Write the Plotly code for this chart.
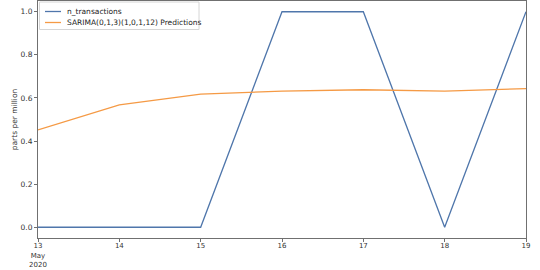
import plotly.graph_objects as go

dates = ["2020-05-13", "2020-05-14", "2020-05-15", "2020-05-16", "2020-05-17", "2020-05-18", "2020-05-19"]
n_transactions = [0, 0, 0, 1, 1, 0, 1]
predictions = [0.452, 0.568, 0.618, 0.632, 0.638, 0.632, 0.643]
tick_text = ["13<br>May<br>2020", "14", "15", "16", "17", "18", "19"]
y_ticks = [0.0, 0.2, 0.4, 0.6, 0.8, 1.0]
series_names = ["n_transactions", "SARIMA(0,1,3)(1,0,1,12) Predictions"]
colors = ["#4f76ab", "#f59a45"]

FONT = "DejaVu Sans"
FS = 7.5

fig = go.Figure()
fig.add_trace(go.Scatter(x=dates, y=n_transactions, mode="lines", name=series_names[0],
                         line=dict(color=colors[0], width=1.3), showlegend=False))
fig.add_trace(go.Scatter(x=dates, y=predictions, mode="lines", name=series_names[1],
                         line=dict(color=colors[1], width=1.3), showlegend=False))

# plot area geometry (pixels) for legend placement
L, R, T, B = 38, 14, 1, 32
W = 540 - L - R
H = 270 - T - B

def px(x):
    return (x - L) / W

def py(y):
    return 1 - (y - T) / H

# legend box (drawn manually to match compact matplotlib legend)
fig.add_shape(type="rect", xref="paper", yref="paper", x0=px(39.5), x1=px(199), y0=py(29.5), y1=py(2),
              line=dict(color="#d6d6d6", width=1), fillcolor="rgba(255,255,255,0.85)", layer="above")
for i, (name, c) in enumerate(zip(series_names, colors)):
    yy = 11.5 + i * 11
    fig.add_shape(type="line", xref="paper", yref="paper", x0=px(45), x1=px(61), y0=py(yy), y1=py(yy),
                  line=dict(color=c, width=1.3), layer="above")
    fig.add_annotation(xref="paper", yref="paper", x=px(65), y=py(yy), text=name, showarrow=False,
                       xanchor="left", yanchor="middle",
                       font=dict(family=FONT, size=FS, color="#222222"))

axis_common = dict(showline=True, linecolor="#707070", linewidth=1, mirror=True,
                   ticks="outside", ticklen=3, tickcolor="#707070", showgrid=False, zeroline=False,
                   automargin=False)

fig.update_layout(
    width=540, height=270,
    margin=dict(l=L, r=R, t=T, b=B),
    paper_bgcolor="white", plot_bgcolor="white",
    font=dict(family=FONT, size=FS, color="#333333"),
    showlegend=False,
    xaxis=dict(type="date", range=[dates[0], dates[-1]], tickvals=dates, ticktext=tick_text,
               tickfont=dict(family=FONT, size=7, color="#333333"), ticklabelstandoff=-2, **axis_common),
    yaxis=dict(range=[-0.05, 1.05], tickvals=y_ticks, ticktext=[f"{v:.1f}" for v in y_ticks],
               tickfont=dict(family=FONT, size=FS, color="#333333"),
               title=dict(text="parts per million", font=dict(family=FONT, size=FS, color="#333333"), standoff=1),
               **axis_common),
)

fig.write_html("out.html")
